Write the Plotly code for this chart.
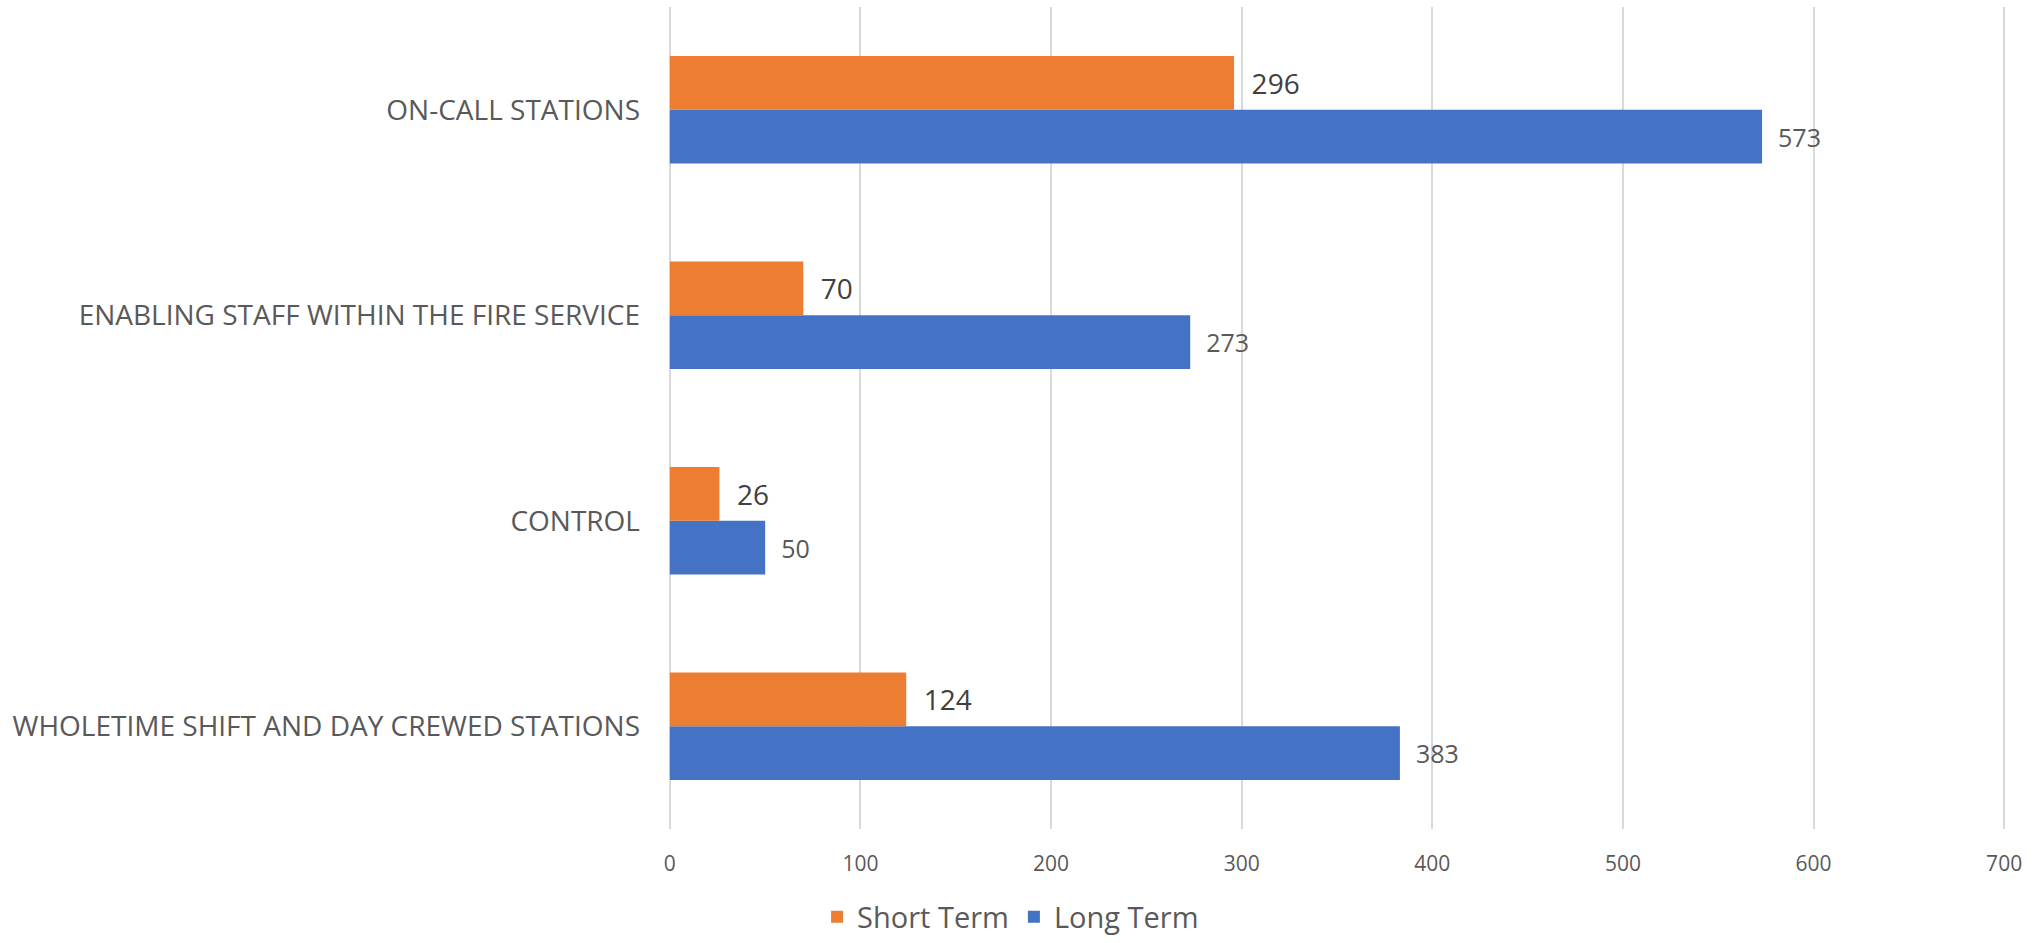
import plotly.graph_objects as go

# Categories listed bottom to top, as plotly draws a horizontal bar axis.
categories = [
    "WHOLETIME SHIFT AND DAY CREWED STATIONS",
    "CONTROL",
    "ENABLING STAFF WITHIN THE FIRE SERVICE",
    "ON-CALL STATIONS",
]
short_term = [124, 26, 70, 296]
long_term = [383, 50, 273, 573]
x_ticks = [0, 100, 200, 300, 400, 500, 600, 700]

_ORANGE = "#ED7D31"
_BLUE = "#4472C4"
_GRID = "#D9D9D9"
_LABEL = "#595959"
_FONT = "Open Sans"

fig = go.Figure()
# Long Term goes first so it sits below Short Term inside each group.
fig.add_trace(go.Bar(
    y=categories, x=long_term, name="Long Term", orientation="h",
    marker={"color": _BLUE, "line": {"width": 0}},
    text=long_term, texttemplate="  %{x}", textposition="outside",
    constraintext="none", cliponaxis=False,
    textfont={"family": _FONT, "size": 25, "color": _LABEL},
    legendrank=2,
))
fig.add_trace(go.Bar(
    y=categories, x=short_term, name="Short Term", orientation="h",
    marker={"color": _ORANGE, "line": {"width": 0}},
    text=short_term, texttemplate="  %{x}", textposition="outside",
    constraintext="none", cliponaxis=False,
    textfont={"family": _FONT, "size": 28, "color": "#404040"},
    legendrank=1,
))

fig.update_layout(
    width=2037, height=943,
    paper_bgcolor="white", plot_bgcolor="white",
    font={"family": _FONT, "color": _LABEL},
    barmode="group", bargap=0.477, bargroupgap=0,
    margin={"l": 667, "r": 30, "t": 7, "b": 114, "autoexpand": False},
    xaxis={
        # padded a little so the 0 and 700 gridlines are not clipped at the edges
        "range": [-1.5, 701.5], "tickvals": x_ticks, "showgrid": True,
        "gridcolor": _GRID, "gridwidth": 2, "zeroline": False,
        "showline": False, "ticks": "", "ticklabelstandoff": 20,
        "tickfont": {"family": _FONT, "size": 21, "color": _LABEL},
    },
    yaxis={
        "showgrid": False, "zeroline": False, "showline": False, "ticks": "",
        "ticklabelstandoff": 26,
        "tickfont": {"family": _FONT, "size": 28, "color": _LABEL},
    },
    legend={
        "orientation": "h", "x": 0.112, "xanchor": "left",
        "y": -0.076, "yanchor": "top",
        "font": {"family": _FONT, "size": 29, "color": _LABEL},
        "itemwidth": 30,
    },
)

fig.write_html(
    "out.html",
    config={"displayModeBar": False},
    post_script="document.body.style.margin='0';",
)
